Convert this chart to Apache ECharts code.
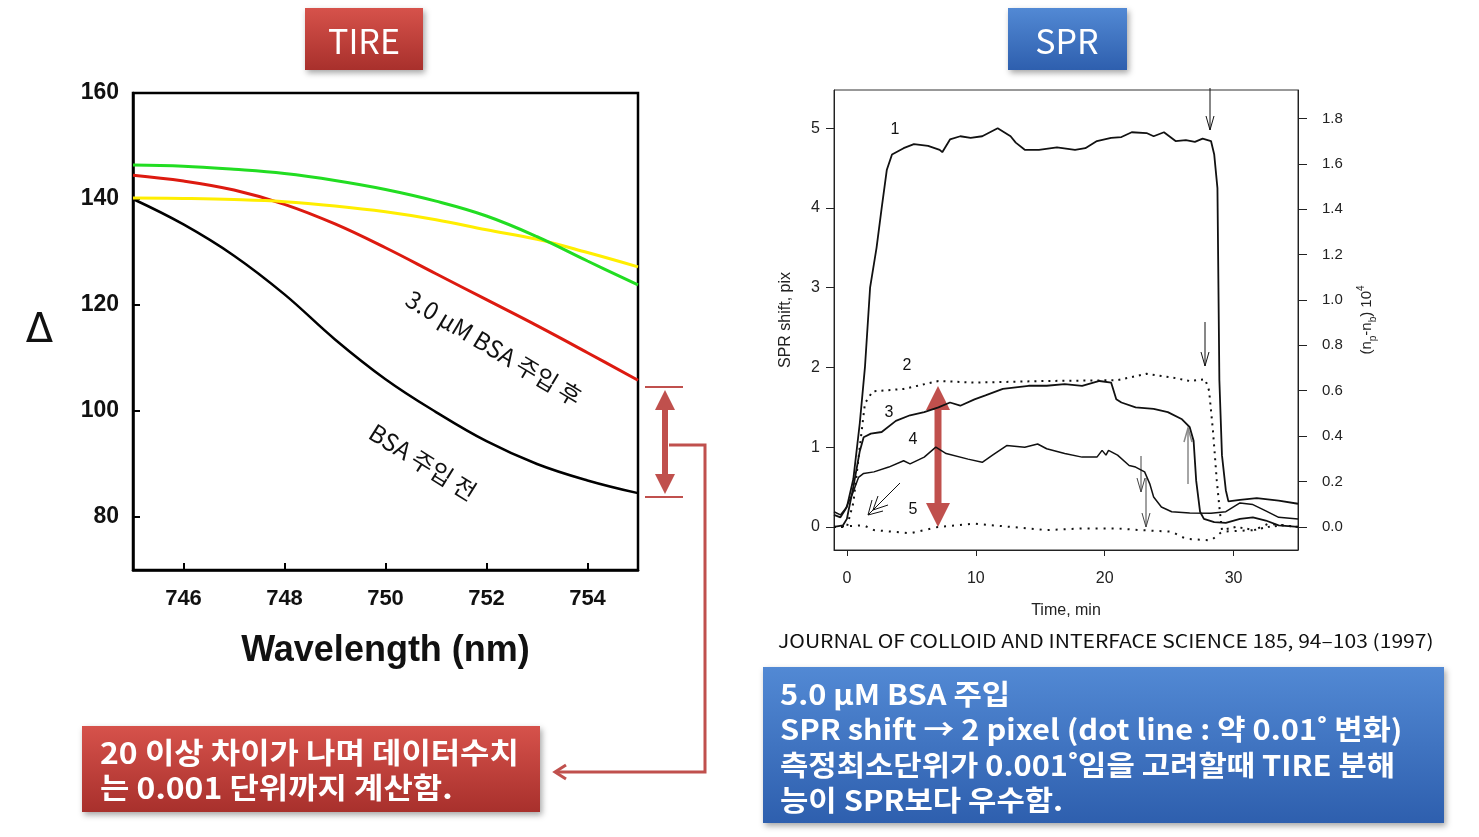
<!DOCTYPE html>
<html>
<head>
<meta charset="utf-8">
<script src="https://cdn.jsdelivr.net/npm/echarts@6/dist/echarts.min.js"></script>
<style>
html,body{margin:0;padding:0;background:#fff;}
#main{width:1479px;height:837px;}
</style>
</head>
<body>
<div id="main"></div>
<script>
// ---------- TIRE data ----------
const tireWavelength = [745, 746, 747, 748, 749, 750, 751, 752, 753, 754, 755];
const tireGreen  = [146.4, 146.2, 145.6, 144.8, 143.5, 141.8, 139.6, 136.8, 132.9, 128.3, 123.8];
const tireYellow = [140.2, 140.1, 139.9, 139.5, 138.7, 137.6, 136.1, 134.2, 132.4, 129.9, 127.2];
const tireAfter  = [144.5, 143.4, 141.7, 139.0, 135.3, 130.8, 125.9, 121.0, 116.1, 111.0, 105.8];
const tireBefore = [140.0, 135.2, 129.3, 122.0, 113.5, 106.0, 99.8, 94.3, 90.0, 86.9, 84.5];
const tireXTicks = [746, 748, 750, 752, 754];
const tireYTicks = [80, 100, 120, 140, 160];

// ---------- SPR data (time min, shift pix) ----------
const spr1 = [[-1,0.15],[-0.5,0.12],[0,0.25],[0.5,0.6],[1.0,1.3],[1.4,2.0],[1.8,3.0],[2.3,3.5],[2.7,4.0],[3.1,4.48],[3.5,4.67],[4.4,4.75],[5.2,4.8],[6.3,4.78],[7.2,4.73],[7.4,4.70],[8.0,4.86],[8.8,4.9],[9.6,4.88],[10.5,4.9],[11.7,5.0],[12.7,4.9],[13.1,4.82],[13.8,4.73],[14.9,4.73],[16.3,4.76],[17.7,4.73],[18.5,4.75],[19.4,4.84],[20.5,4.88],[21.3,4.89],[22.1,4.95],[23.25,4.94],[23.8,4.9],[24.6,4.95],[25.5,4.84],[26.3,4.85],[27.0,4.83],[27.6,4.87],[28.25,4.84],[28.5,4.67],[28.75,4.25],[28.9,1.84],[29.1,0.9],[29.4,0.46],[29.6,0.32],[30.5,0.34],[31.8,0.36],[33.5,0.33],[35,0.29]];
const spr2 = [[-1,0.0],[0,0.0],[0.5,0.3],[1.0,1.0],[1.4,1.55],[2.0,1.7],[4.4,1.73],[7.1,1.83],[9.9,1.81],[15.5,1.83],[21,1.84],[23.25,1.92],[25.2,1.875],[26.6,1.83],[27.8,1.85],[28.1,1.71],[28.4,1.21],[28.7,0.58],[28.9,0.25],[29.1,-0.04],[30.2,0],[31.6,-0.04],[32.7,0],[33.8,0.02],[35,0]];
const spr3 = [[-1,0.0],[-0.3,0.02],[0,0.1],[0.5,0.5],[1.0,0.95],[1.3,1.125],[1.86,1.17],[2.7,1.19],[3.8,1.33],[4.9,1.4],[6.0,1.44],[7.1,1.5],[8.0,1.56],[8.8,1.52],[9.9,1.6],[10.75,1.65],[12.1,1.73],[14.1,1.77],[15.5,1.77],[16.9,1.79],[18.25,1.77],[19.6,1.83],[20.5,1.81],[20.9,1.6],[21.3,1.56],[22.4,1.5],[23.8,1.48],[24.9,1.44],[26.0,1.35],[26.6,1.25],[26.9,1.08],[27.1,0.58],[27.4,0.19],[27.7,0.1],[28.5,0.06],[29.4,0.05],[30.5,0.1],[31.5,0.12],[32.5,0.08],[33.5,0.02],[35,0.0]];
const spr4 = [[-1,0.19],[-0.5,0.15],[-0.1,0.23],[0.4,0.4],[0.9,0.62],[1.3,0.67],[2.1,0.69],[3.25,0.75],[4.4,0.83],[4.9,0.79],[6.0,0.875],[6.9,1.0],[7.7,0.92],[9.4,0.85],[10.5,0.81],[11.3,0.9],[12.4,1.02],[13.8,1.0],[14.8,1.04],[15.5,0.98],[16.9,0.92],[18.25,0.875],[19.4,0.875],[19.8,0.96],[20.1,0.9],[20.3,0.96],[21.0,0.9],[21.9,0.77],[22.4,0.75],[23.1,0.69],[23.5,0.54],[23.8,0.375],[24.4,0.25],[25.2,0.19],[26.6,0.175],[28.25,0.17],[29.4,0.19],[30.5,0.3],[31.5,0.28],[32.5,0.2],[33.5,0.12],[35,0.1]];
const spr5 = [[-1,0],[1.3,0.02],[2.1,-0.04],[4.9,-0.08],[7.1,0],[9.9,0.04],[12.7,0],[15.5,-0.04],[18.25,-0.02],[21,-0.02],[22.7,-0.04],[25.2,-0.06],[26.3,-0.15],[28.25,-0.17],[29.1,-0.06],[31.6,-0.04],[32.7,0.04],[35,0]];
const sprXTicks = [0, 10, 20, 30];
const sprYTicks = [0, 1, 2, 3, 4, 5];
const sprRightTicks = [0, 0.2, 0.4, 0.6, 0.8, 1.0, 1.2, 1.4, 1.6, 1.8];

// ---------- texts ----------
const tireTitle = 'TIRE';
const sprTitle = 'SPR';
const tireNoteLines = ['20 이상 차이가 나며 데이터수치', '는 0.001 단위까지 계산함.'];
const sprNoteLines = ['5.0 μM BSA 주입', 'SPR shift → 2 pixel (dot line : 약 0.01˚ 변화)', '측정최소단위가 0.001˚임을 고려할때 TIRE 분해', '능이 SPR보다 우수함.'];
const journalRef = 'JOURNAL OF COLLOID AND INTERFACE SCIENCE 185, 94–103 (1997)';

const KR = '"Noto Sans CJK KR", "Noto Sans", sans-serif';
const AR = '"Liberation Sans", Arial, sans-serif';
const RED = '#c0504d';

const chart = echarts.init(document.getElementById('main'), null, {renderer: 'canvas'});

function pair(xs, ys) { return xs.map((x, i) => [x, ys[i]]); }

const redGrad = {type:'linear', x:0, y:0, x2:0, y2:1, colorStops:[{offset:0, color:'#d6524b'}, {offset:1, color:'#a8302c'}]};
const blueGrad = {type:'linear', x:0, y:0, x2:0, y2:1, colorStops:[{offset:0, color:'#5289d4'}, {offset:1, color:'#2e5fae'}]};
const shadow = {shadowBlur: 6, shadowOffsetX: 2, shadowOffsetY: 3, shadowColor: 'rgba(0,0,0,0.35)'};

function arrowDown(x, y1, y2, color) {
  return [
    {type:'line', shape:{x1:x, y1:y1, x2:x, y2:y2}, style:{stroke:color, lineWidth:1}},
    {type:'polyline', shape:{points:[[x-4, y2-14],[x, y2],[x+4, y2-14]]}, style:{stroke:color, lineWidth:1, fill:null}}
  ];
}
function arrowUp(x, y1, y2, color) {
  return [
    {type:'line', shape:{x1:x, y1:y1, x2:x, y2:y2}, style:{stroke:color, lineWidth:1.5}},
    {type:'polyline', shape:{points:[[x-4, y2+14],[x, y2],[x+4, y2+14]]}, style:{stroke:color, lineWidth:1.5, fill:null}}
  ];
}
function boxText(x, y, text, size, sx) {
  return {type:'text', x:x, y:y, scaleX:sx, style:{text:text, fill:'#fff', font:'bold ' + size + 'px ' + KR, align:'left', verticalAlign:'middle'}};
}

const graphics = [
  // TIRE title box
  {type:'rect', shape:{x:305, y:8, width:118, height:62}, style:Object.assign({fill:redGrad}, shadow)},
  {type:'text', x:364, y:41, style:{text:tireTitle, fill:'#fff', font:'34px ' + KR, align:'center', verticalAlign:'middle'}},
  // SPR title box
  {type:'rect', shape:{x:1008, y:8, width:119, height:62}, style:Object.assign({fill:blueGrad}, shadow)},
  {type:'text', x:1067, y:41, style:{text:sprTitle, fill:'#fff', font:'34px ' + KR, align:'center', verticalAlign:'middle'}},
  // TIRE curve annotations
  {type:'text', x:494, y:348, rotation:-0.54, style:{text:'3.0 μM BSA 주입 후', fill:'#111', font:'24px ' + KR, align:'center', verticalAlign:'middle'}},
  {type:'text', x:423, y:462, rotation:-0.56, style:{text:'BSA 주입 전', fill:'#111', font:'24px ' + KR, align:'center', verticalAlign:'middle'}},
  // TIRE difference arrow
  {type:'line', shape:{x1:645, y1:387, x2:683, y2:387}, style:{stroke:RED, lineWidth:2}},
  {type:'line', shape:{x1:645, y1:497, x2:683, y2:497}, style:{stroke:RED, lineWidth:2}},
  {type:'line', shape:{x1:665, y1:405, x2:665, y2:478}, style:{stroke:RED, lineWidth:6}},
  {type:'polygon', shape:{points:[[665,390],[655,410],[675,410]]}, style:{fill:RED}},
  {type:'polygon', shape:{points:[[665,494],[655,474],[675,474]]}, style:{fill:RED}},
  {type:'polyline', shape:{points:[[669,445],[705,445],[705,772],[557,772]]}, style:{stroke:RED, lineWidth:3, fill:null}},
  {type:'polyline', shape:{points:[[566,765],[555,772],[566,779]]}, style:{stroke:RED, lineWidth:3, fill:null}},
  // TIRE note box
  {type:'rect', shape:{x:82, y:726, width:458, height:86}, style:Object.assign({fill:redGrad}, shadow)},
  boxText(100, 753, tireNoteLines[0], 29, 1.1),
  boxText(100, 788, tireNoteLines[1], 29, 1.1),
  // Journal reference
  {type:'text', x:778, y:641, scaleX:1.17, style:{text:journalRef, fill:'#111', font:'18px ' + KR, align:'left', verticalAlign:'middle'}},
  // SPR note box
  {type:'rect', shape:{x:763, y:667, width:681, height:156}, style:Object.assign({fill:blueGrad}, shadow)},
  boxText(780, 694, sprNoteLines[0], 28, 1.1),
  boxText(780, 729, sprNoteLines[1], 28, 1.1),
  boxText(780, 765, sprNoteLines[2], 28, 1.1),
  boxText(780, 800, sprNoteLines[3], 28, 1.1),
  // SPR curve labels
  {type:'text', x:895, y:130, style:{text:'1', fill:'#111', font:'16px ' + AR, align:'center', verticalAlign:'middle'}},
  {type:'text', x:907, y:366, style:{text:'2', fill:'#111', font:'16px ' + AR, align:'center', verticalAlign:'middle'}},
  {type:'text', x:889, y:413, style:{text:'3', fill:'#111', font:'16px ' + AR, align:'center', verticalAlign:'middle'}},
  {type:'text', x:913, y:440, style:{text:'4', fill:'#111', font:'16px ' + AR, align:'center', verticalAlign:'middle'}},
  {type:'text', x:913, y:510, style:{text:'5', fill:'#111', font:'16px ' + AR, align:'center', verticalAlign:'middle'}},
  // SPR red double arrow
  {type:'line', shape:{x1:938, y1:405, x2:938, y2:508}, style:{stroke:RED, lineWidth:7}},
  {type:'polygon', shape:{points:[[938,386],[926,410],[950,410]]}, style:{fill:RED}},
  {type:'polygon', shape:{points:[[938,527],[926,503],[950,503]]}, style:{fill:RED}},
  // diagonal arrow
  {type:'line', shape:{x1:900, y1:483, x2:868, y2:515}, style:{stroke:'#111', lineWidth:1}},
  {type:'polyline', shape:{points:[[872,500],[868,515],[883,511]]}, style:{stroke:'#111', lineWidth:1, fill:null}},
  {type:'polyline', shape:{points:[[878,496],[873,510],[888,505]]}, style:{stroke:'#111', lineWidth:1, fill:null}}
].concat(
  arrowDown(1210, 88, 130, '#111'),
  arrowDown(1205, 322, 366, '#111'),
  arrowDown(1141, 456, 492, '#444'),
  arrowDown(1146, 478, 527, '#444'),
  arrowUp(1188, 484, 428, '#888')
);

const option = {
  animation: false,
  backgroundColor: '#fff',
  grid: [
    {left:133, top:93, width:505, height:477, show:true, borderColor:'#000', borderWidth:2.5, backgroundColor:'transparent'},
    {left:834, top:90, width:464, height:460, show:true, borderColor:'#333', borderWidth:1, backgroundColor:'transparent'}
  ],
  xAxis: [
    {
      gridIndex:0, type:'value', min:745, max:755,
      axisLine:{show:true, lineStyle:{color:'#000', width:2.5}},
      axisTick:{show:true, inside:true, length:7, lineStyle:{color:'#000', width:2}, customValues:tireXTicks},
      axisLabel:{customValues:tireXTicks, margin:18, color:'#111', fontFamily:AR, fontWeight:'bold', fontSize:22},
      splitLine:{show:false},
      name:'Wavelength (nm)', nameLocation:'middle', nameGap:63,
      nameTextStyle:{fontFamily:AR, fontWeight:'bold', fontSize:36, color:'#111'}
    },
    {
      gridIndex:1, type:'value', min:-1, max:35,
      axisLine:{show:true, onZero:false, lineStyle:{color:'#222', width:1}},
      axisTick:{show:true, inside:false, length:6, lineStyle:{color:'#222', width:1}, customValues:sprXTicks},
      axisLabel:{customValues:sprXTicks, margin:21, color:'#222', fontFamily:AR, fontSize:16},
      splitLine:{show:false},
      name:'Time, min', nameLocation:'middle', nameGap:53,
      nameTextStyle:{fontFamily:AR, fontSize:16, color:'#222'}
    }
  ],
  yAxis: [
    {
      gridIndex:0, type:'value', min:70, max:160,
      axisLine:{show:true, lineStyle:{color:'#000', width:2.5}},
      axisTick:{show:true, inside:true, length:7, lineStyle:{color:'#000', width:2}, customValues:tireYTicks},
      axisLabel:{customValues:tireYTicks, margin:14, color:'#111', fontFamily:AR, fontWeight:'bold', fontSize:23},
      splitLine:{show:false},
      name:'Δ', nameLocation:'middle', nameGap:80, nameRotate:0,
      nameTextStyle:{fontFamily:'"DejaVu Sans", sans-serif', fontSize:40, color:'#111'}
    },
    {
      gridIndex:1, type:'value', min:-0.29, max:5.48,
      axisLine:{show:true, onZero:false, lineStyle:{color:'#222', width:1}},
      axisTick:{show:true, inside:false, length:8, lineStyle:{color:'#222', width:1}, customValues:sprYTicks},
      axisLabel:{customValues:sprYTicks, margin:14, color:'#222', fontFamily:AR, fontSize:16},
      splitLine:{show:false},
      name:'SPR shift, pix', nameLocation:'middle', nameGap:40, nameRotate:90,
      nameTextStyle:{fontFamily:AR, fontSize:16, color:'#222'}
    },
    {
      gridIndex:1, type:'value', position:'right', min:-0.102, max:1.925,
      axisLine:{show:true, onZero:false, lineStyle:{color:'#222', width:1}},
      axisTick:{show:true, inside:false, length:9, lineStyle:{color:'#222', width:1}, customValues:sprRightTicks},
      axisLabel:{customValues:sprRightTicks, margin:24, color:'#222', fontFamily:AR, fontSize:15, formatter:(v) => v.toFixed(1)},
      splitLine:{show:false},
      name:'(n{sub|p}-n{sub|b}) 10{sup|4}', nameLocation:'middle', nameGap:58, nameRotate:90,
      nameTextStyle:{fontFamily:AR, fontSize:15, color:'#222', lineHeight:22,
        rich:{sub:{fontSize:10, verticalAlign:'bottom', fontFamily:AR, color:'#222'}, sup:{fontSize:10, verticalAlign:'top', fontFamily:AR, color:'#222'}}}
    }
  ],
  series: [
    {type:'line', xAxisIndex:0, yAxisIndex:0, data:pair(tireWavelength, tireBefore), smooth:0.4, symbol:'none', lineStyle:{color:'#000', width:2.5}},
    {type:'line', xAxisIndex:0, yAxisIndex:0, data:pair(tireWavelength, tireAfter), smooth:0.4, symbol:'none', lineStyle:{color:'#dd1a10', width:3}},
    {type:'line', xAxisIndex:0, yAxisIndex:0, data:pair(tireWavelength, tireYellow), smooth:0.4, symbol:'none', lineStyle:{color:'#ffee00', width:3}},
    {type:'line', xAxisIndex:0, yAxisIndex:0, data:pair(tireWavelength, tireGreen), smooth:0.4, symbol:'none', lineStyle:{color:'#22dd22', width:3}},
    {type:'line', xAxisIndex:1, yAxisIndex:1, data:spr1, symbol:'none', lineStyle:{color:'#111', width:1.8}},
    {type:'line', xAxisIndex:1, yAxisIndex:1, data:spr2, symbol:'none', lineStyle:{color:'#111', width:2, type:[2,5]}},
    {type:'line', xAxisIndex:1, yAxisIndex:1, data:spr3, symbol:'none', lineStyle:{color:'#111', width:1.8}},
    {type:'line', xAxisIndex:1, yAxisIndex:1, data:spr4, symbol:'none', lineStyle:{color:'#111', width:1.5}},
    {type:'line', xAxisIndex:1, yAxisIndex:1, data:spr5, symbol:'none', lineStyle:{color:'#111', width:2, type:[2,6]}}
  ],
  graphic: graphics
};
chart.setOption(option);
</script>
</body>
</html>
